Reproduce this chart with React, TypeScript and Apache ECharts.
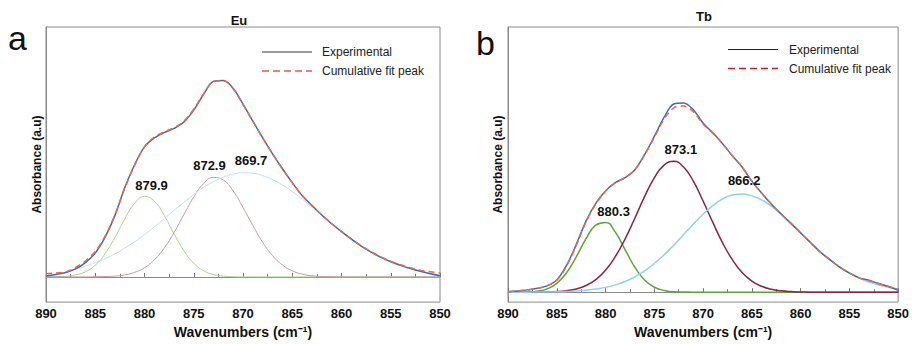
import React, { useEffect, useRef } from "react";
import * as echarts from "echarts";

// Wavenumber grid (cm^-1), left to right as drawn
const WAVENUMBERS = [
  890, 889, 888, 887, 886, 885, 884, 883, 882, 881, 880, 879, 878, 877, 876, 875, 874, 873, 872, 871,
  870, 869, 868, 867, 866, 865, 864, 863, 862, 861, 860, 859, 858, 857, 856, 855, 854, 853, 852, 851, 850,
];

// ---- Panel a: Eu ----
const EU_EXP = [
  0.004, 0.012, 0.022, 0.04, 0.072, 0.12, 0.2, 0.31, 0.45, 0.565, 0.655, 0.7, 0.727, 0.748, 0.78, 0.84, 0.92, 0.985, 0.99, 0.95,
  0.87, 0.785, 0.7, 0.62, 0.545, 0.475, 0.41, 0.36, 0.312, 0.268, 0.228, 0.19, 0.155, 0.125, 0.098, 0.076, 0.058, 0.042, 0.028, 0.016, 0.006,
];
const EU_FIT = [
  0.016, 0.02, 0.025, 0.048, 0.08, 0.128, 0.205, 0.312, 0.447, 0.563, 0.655, 0.705, 0.73, 0.752, 0.785, 0.845, 0.922, 0.984, 0.988, 0.948,
  0.868, 0.784, 0.7, 0.62, 0.545, 0.474, 0.41, 0.36, 0.312, 0.269, 0.229, 0.191, 0.157, 0.127, 0.101, 0.079, 0.061, 0.046, 0.034, 0.026, 0.02,
];
const EU_P1 = [
  0, 0.001, 0.003, 0.01, 0.026, 0.059, 0.117, 0.199, 0.292, 0.37, 0.405, 0.381, 0.31, 0.217, 0.132, 0.069, 0.031, 0.012, 0.004, 0.001,
  0, 0, 0, 0, 0, 0, 0, 0, 0, 0, 0, 0, 0, 0, 0, 0, 0, 0, 0, 0, 0,
];
const EU_P2 = [
  0, 0, 0, 0, 0, 0.001, 0.002, 0.004, 0.01, 0.023, 0.046, 0.086, 0.145, 0.223, 0.314, 0.402, 0.47, 0.501, 0.488, 0.433,
  0.35, 0.259, 0.174, 0.107, 0.06, 0.031, 0.014, 0.006, 0.002, 0.001, 0, 0, 0, 0, 0, 0, 0, 0, 0, 0, 0,
];
const EU_P3 = [
  0.008, 0.014, 0.022, 0.038, 0.054, 0.071, 0.092, 0.116, 0.145, 0.177, 0.213, 0.252, 0.293, 0.335, 0.376, 0.415, 0.451, 0.48, 0.503, 0.518,
  0.525, 0.522, 0.51, 0.49, 0.463, 0.43, 0.392, 0.352, 0.31, 0.269, 0.229, 0.191, 0.157, 0.127, 0.101, 0.079, 0.061, 0.044, 0.03, 0.019, 0.01,
];
const EU_PEAKS = [879.9, 872.9, 869.7];

// ---- Panel b: Tb ----
const TB_EXP = [
  0.002, 0.006, 0.012, 0.02, 0.033, 0.064, 0.14, 0.25, 0.372, 0.465, 0.53, 0.573, 0.6, 0.64, 0.72, 0.815, 0.915, 0.985, 0.99, 0.955,
  0.885, 0.834, 0.777, 0.714, 0.655, 0.581, 0.519, 0.461, 0.409, 0.36, 0.31, 0.26, 0.21, 0.17, 0.131, 0.1, 0.075, 0.062, 0.045, 0.03, 0.01,
];
const TB_FIT = [
  0.002, 0.006, 0.012, 0.02, 0.033, 0.062, 0.136, 0.245, 0.368, 0.462, 0.528, 0.572, 0.6, 0.64, 0.718, 0.81, 0.905, 0.965, 0.975, 0.945,
  0.88, 0.832, 0.777, 0.714, 0.655, 0.581, 0.519, 0.461, 0.409, 0.36, 0.31, 0.26, 0.21, 0.17, 0.131, 0.1, 0.075, 0.06, 0.044, 0.03, 0.015,
];
const TB_P1 = [
  0, 0, 0.001, 0.005, 0.017, 0.046, 0.101, 0.185, 0.28, 0.351, 0.365, 0.314, 0.223, 0.131, 0.064, 0.026, 0.009, 0.002, 0.001, 0,
  0, 0, 0, 0, 0, 0, 0, 0, 0, 0, 0, 0, 0, 0, 0, 0, 0, 0, 0, 0, 0,
];
const TB_P2 = [
  0, 0, 0, 0, 0.001, 0.003, 0.008, 0.017, 0.035, 0.066, 0.115, 0.186, 0.278, 0.387, 0.5, 0.598, 0.665, 0.685, 0.655, 0.581,
  0.477, 0.365, 0.258, 0.17, 0.103, 0.058, 0.031, 0.015, 0.007, 0.003, 0.001, 0, 0, 0, 0, 0, 0, 0, 0, 0, 0,
];
const TB_P3 = [
  0, 0, 0, 0.001, 0.001, 0.002, 0.003, 0.006, 0.01, 0.016, 0.025, 0.038, 0.056, 0.08, 0.111, 0.15, 0.195, 0.246, 0.301, 0.356,
  0.408, 0.453, 0.488, 0.509, 0.514, 0.504, 0.483, 0.45, 0.409, 0.362, 0.312, 0.262, 0.214, 0.171, 0.133, 0.101, 0.074, 0.053, 0.037, 0.026, 0.017,
];
const TB_PEAKS = [880.3, 873.1, 866.2];

const X_MIN = 850;
const X_MAX = 890;
const X_STEP = 5;

const FONT = '"Liberation Sans", Arial, Helvetica, sans-serif';

const pairs = (vals: number[]) => WAVENUMBERS.map((w, i) => [w, vals[i]]);
const maxOf = (vals: number[]) => Math.max(...vals);

function xAxisFor(gridIndex: number, labelMargin: number) {
  return {
    type: "value",
    gridIndex,
    min: X_MIN,
    max: X_MAX,
    interval: X_STEP,
    inverse: true,
    axisLine: { show: true, lineStyle: { color: "#8a8a8a", width: 1 } },
    axisTick: { show: true, inside: true, length: 4, lineStyle: { color: "#777" } },
    minorTick: { show: true, splitNumber: 2, length: 3, lineStyle: { color: "#777" } },
    splitLine: { show: false },
    minorSplitLine: { show: false },
    axisLabel: { color: "#111", fontWeight: "bold", fontSize: 13, fontFamily: FONT, margin: labelMargin },
    name: "Wavenumbers (cm\u207B\u00B9)",
    nameLocation: "middle",
    nameGap: 16,
    nameTextStyle: { color: "#111", fontWeight: "bold", fontSize: 14, fontFamily: FONT },
  };
}

function yAxisFor(gridIndex: number, min: number, max: number, nameGap: number) {
  return {
    type: "value",
    gridIndex,
    min,
    max,
    axisLine: { show: true, lineStyle: { color: "#8a8a8a", width: 1 } },
    axisTick: { show: false },
    axisLabel: { show: false },
    splitLine: { show: false },
    name: "Absorbance (a.u)",
    nameLocation: "middle",
    nameRotate: 90,
    nameGap,
    nameTextStyle: { color: "#111", fontWeight: "bold", fontSize: 12, fontFamily: FONT },
  };
}

function lineSeries(idx: number, vals: number[], color: string, width: number, dashed: boolean, z: number) {
  return {
    type: "line",
    xAxisIndex: idx,
    yAxisIndex: idx,
    data: pairs(vals),
    showSymbol: false,
    symbol: "none",
    smooth: 0.35,
    silent: true,
    z,
    lineStyle: { color, width, type: dashed ? [6, 4] : "solid" },
  };
}

function peakSeries(idx: number, vals: number[], pos: number, color: string, width: number, offset: number[]) {
  const s: any = lineSeries(idx, vals, color, width, false, 2);
  s.smooth = true;
  s.markPoint = {
    symbol: "circle",
    symbolSize: 1,
    silent: true,
    itemStyle: { color: "rgba(0,0,0,0)" },
    label: {
      show: true,
      position: "inside",
      offset,
      formatter: pos.toFixed(1),
      color: "#111",
      fontWeight: "bold",
      fontSize: 13,
      fontFamily: FONT,
    },
    data: [{ coord: [pos, maxOf(vals)] }],
  };
  return s;
}

function legend(x1: number, y1: number, gap: number, textX: number, lineColor: string, dashColor: string) {
  return [
    { type: "line", shape: { x1, y1, x2: x1 + 50, y2: y1 }, style: { stroke: lineColor, lineWidth: 1.2 } },
    {
      type: "text",
      x: textX,
      y: y1,
      style: { text: "Experimental", font: `12px ${FONT}`, fill: "#222", textAlign: "left", textVerticalAlign: "middle" },
    },
    {
      type: "line",
      shape: { x1, y1: y1 + gap, x2: x1 + 50, y2: y1 + gap },
      style: { stroke: dashColor, lineWidth: 1.4, lineDash: [7, 4] },
    },
    {
      type: "text",
      x: textX,
      y: y1 + gap,
      style: { text: "Cumulative fit peak", font: `12px ${FONT}`, fill: "#222", textAlign: "left", textVerticalAlign: "middle" },
    },
  ];
}

export default function App() {
  const ref = useRef<HTMLDivElement>(null);
  useEffect(() => {
    if (!ref.current) return;
    const chart = echarts.init(ref.current, null, { renderer: "svg" });
    const EXP_COLOR = "#3b6db5";
    const FIT_COLOR = "#f2673e";
    const option: any = {
      animation: false,
      backgroundColor: "#ffffff",
      grid: [
        { left: 46, top: 27, width: 394, height: 284, show: true, borderColor: "#8a8a8a", borderWidth: 1, backgroundColor: "transparent" },
        { left: 508, top: 27, width: 391, height: 287, show: true, borderColor: "#8a8a8a", borderWidth: 1, backgroundColor: "transparent" },
      ],
      xAxis: [xAxisFor(0, 5), xAxisFor(1, 5)],
      yAxis: [yAxisFor(0, -0.127, 1.259, 3), yAxisFor(1, -0.052, 1.388, 4)],
      series: [
        peakSeries(0, EU_P1, EU_PEAKS[0], "#a9d08e", 1, [6, -11]),
        peakSeries(0, EU_P2, EU_PEAKS[1], "#c99a9e", 1, [-5, -12]),
        peakSeries(0, EU_P3, EU_PEAKS[2], "#bfe0f6", 1, [5, -12]),
        lineSeries(0, EU_EXP, EXP_COLOR, 1.5, false, 3),
        lineSeries(0, EU_FIT, FIT_COLOR, 1.5, true, 4),
        peakSeries(1, TB_P1, TB_PEAKS[0], "#5fa33b", 1.5, [11, -11]),
        peakSeries(1, TB_P2, TB_PEAKS[1], "#8c2346", 1.5, [8, -12]),
        peakSeries(1, TB_P3, TB_PEAKS[2], "#8fd0f3", 1.5, [4, -13]),
        lineSeries(1, TB_EXP, EXP_COLOR, 1.5, false, 3),
        lineSeries(1, TB_FIT, FIT_COLOR, 1.5, true, 4),
      ],
      graphic: [
        { type: "text", x: 239, y: 20, style: { text: "Eu", font: `bold 13px ${FONT}`, fill: "#111", textAlign: "center", textVerticalAlign: "middle" } },
        { type: "text", x: 704, y: 16, style: { text: "Tb", font: `bold 13px ${FONT}`, fill: "#111", textAlign: "center", textVerticalAlign: "middle" } },
        { type: "text", x: 8, y: 38, style: { text: "a", font: `34px ${FONT}`, fill: "#111", textAlign: "left", textVerticalAlign: "middle" } },
        { type: "text", x: 476, y: 43, style: { text: "b", font: `34px ${FONT}`, fill: "#111", textAlign: "left", textVerticalAlign: "middle" } },
        ...legend(262, 52, 19, 322, "#3d3d3d", "#e8585a"),
        ...legend(728, 49.5, 19, 789, "#222222", "#c8202a"),
      ],
    };
    chart.setOption(option);
    return () => chart.dispose();
  }, []);
  return <div ref={ref} style={{ position: "fixed", left: 0, top: 0, width: 912, height: 344 }} />;
}
